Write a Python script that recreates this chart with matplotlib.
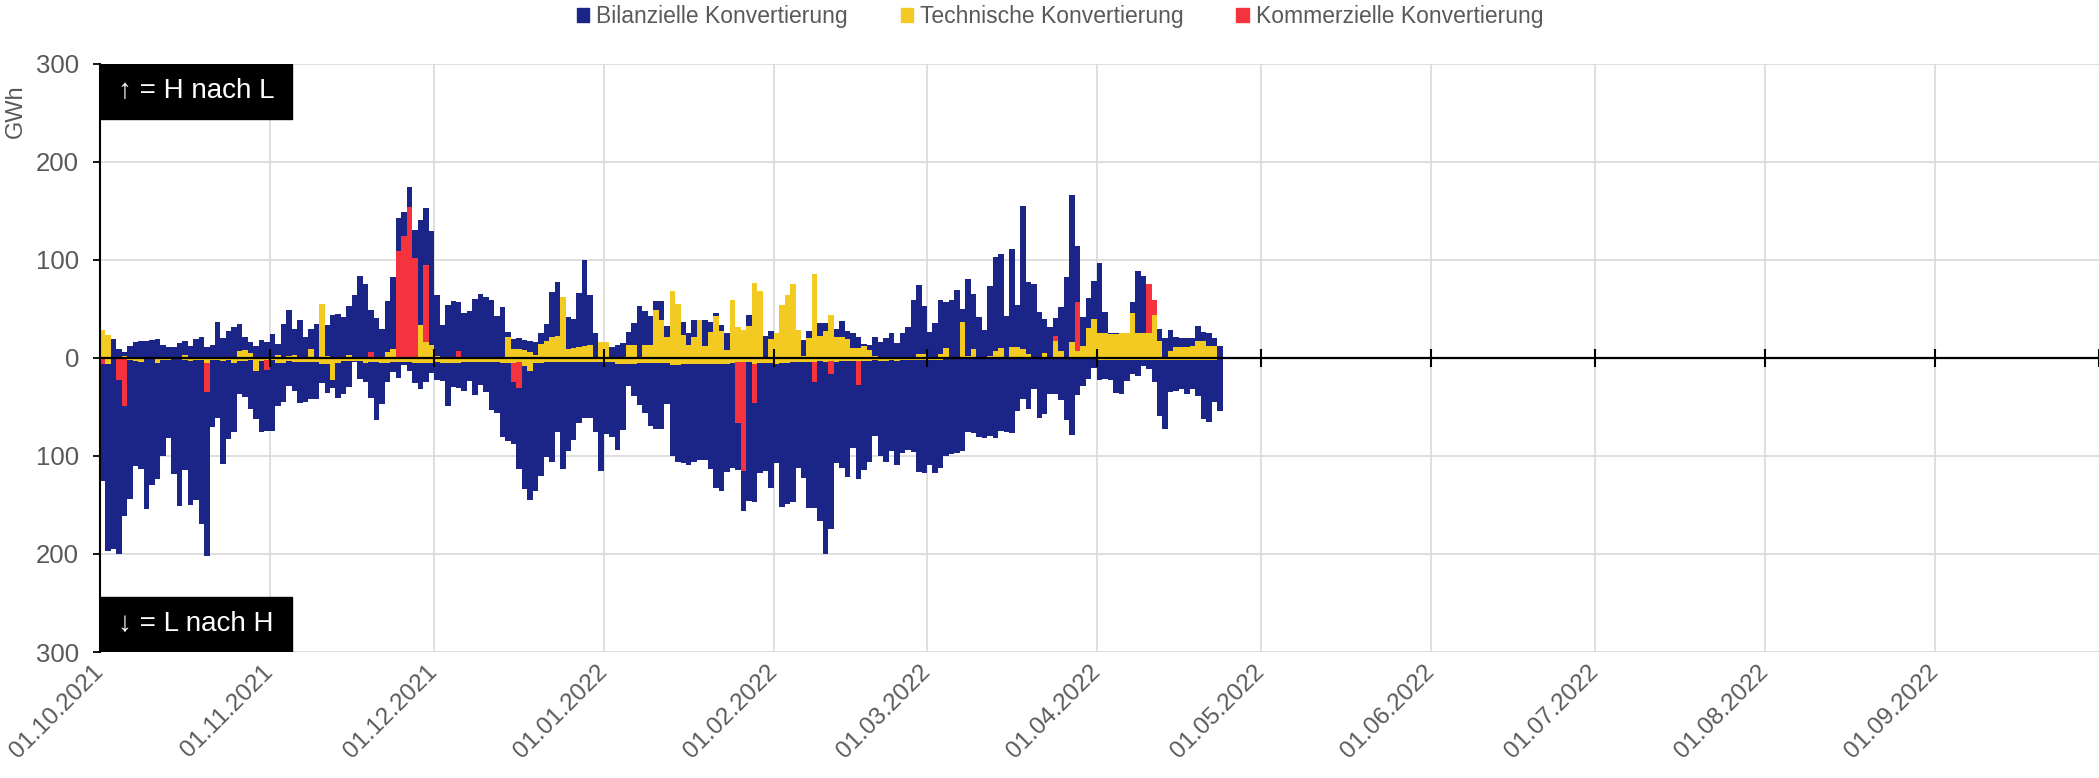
import numpy as np
import pandas as pd
import matplotlib
matplotlib.use('Agg')
import matplotlib.pyplot as plt
import matplotlib.dates as mdates
from matplotlib.patches import Rectangle, Patch
from matplotlib.ticker import FuncFormatter

plt.rcParams['font.family'] = ['Liberation Sans', 'DejaVu Sans']

# daily values in GWh, starting 01.10.2021
start_date = '2021-10-01'

# positive side (H nach L), stacked segments
blue_pos = [
    0, 0, 19, 9, 4, 12, 16, 17, 17, 18,
    19, 13, 11, 11, 15, 14, 12, 19, 21, 11,
    13, 37, 20, 28, 32, 28, 13, 11, 12, 18,
    16, 24, 11, 35, 47, 27, 39, 21, 21, 35,
    0, 32, 44, 45, 42, 50, 64, 84, 75, 43,
    41, 30, 52, 74, 34, 25, 20, 29, 107, 58,
    117, 62, 34, 54, 58, 50, 46, 48, 60, 65,
    62, 59, 43, 52, 6, 10, 11, 10, 11, 13,
    12, 18, 46, 56, 0, 33, 30, 55, 88, 51,
    25, 0, 0, 11, 13, 15, 14, 23, 53, 35,
    30, 9, 19, 12, 0, 0, 14, 13, 18, 0,
    27, 10, 3, 6, 17, 0, 0, 0, 11, 0,
    0, 22, 9, 0, 0, 0, 0, 0, 16, 8,
    0, 14, 8, 0, 9, 17, 9, 16, 11, 2,
    5, 19, 16, 20, 25, 15, 25, 32, 59, 70,
    49, 27, 36, 55, 47, 59, 69, 13, 79, 56,
    42, 29, 71, 96, 96, 43, 100, 43, 146, 74,
    76, 47, 35, 32, 19, 45, 83, 150, 57, 30,
    30, 39, 71, 22, 1, 1, 0, 0, 11, 64,
    59, 0, 0, 13, 20, 22, 10, 9, 9, 8,
    16, 10, 13, 8, 12,
]
yellow_pos = [
    29, 23, 0, 0, 2, 0, 0, 0, 0, 0,
    0, 0, 0, 0, 0, 3, 0, 0, 0, 0,
    0, 0, 0, 0, 0, 7, 8, 5, 0, 0,
    0, 0, 3, 0, 2, 3, 0, 0, 9, 0,
    55, 2, 0, 0, 0, 3, 0, 0, 0, 0,
    0, 0, 6, 9, 0, 0, 0, 0, 34, 16,
    13, 2, 0, 0, 0, 0, 0, 0, 0, 0,
    0, 0, 0, 0, 21, 9, 9, 8, 6, 3,
    14, 17, 21, 22, 62, 9, 10, 11, 12, 13,
    0, 16, 16, 0, 0, 0, 13, 13, 0, 13,
    13, 49, 39, 21, 68, 55, 23, 13, 21, 39,
    12, 27, 43, 28, 8, 59, 32, 29, 33, 77,
    68, 0, 19, 26, 54, 64, 75, 29, 2, 20,
    86, 22, 28, 44, 21, 21, 19, 10, 10, 12,
    8, 2, 0, 0, 0, 0, 0, 0, 0, 4,
    4, 0, 0, 4, 10, 0, 0, 37, 2, 9,
    0, 0, 2, 7, 10, 0, 11, 11, 9, 4,
    0, 0, 5, 0, 17, 7, 0, 16, 7, 12,
    31, 40, 26, 25, 24, 24, 25, 25, 46, 25,
    25, 25, 44, 17, 0, 7, 11, 11, 11, 12,
    17, 17, 12, 12, 0,
]
red_pos = [0] * 205
for day, val in [(49, 6), (54, 109), (55, 124), (56, 154), (57, 102), (59, 79),
                 (65, 7), (174, 5), (178, 50), (191, 50), (192, 15)]:
    red_pos[day] = val

# negative side (L nach H), magnitudes of stacked segments
yellow_neg = [
    0, 6, 1, 0, 0, 2, 3, 4, 1, 1,
    5, 2, 2, 1, 1, 2, 3, 2, 2, 5,
    2, 2, 3, 2, 5, 3, 3, 2, 13, 3,
    2, 2, 5, 5, 3, 4, 4, 4, 4, 4,
    6, 6, 22, 5, 3, 3, 3, 3, 5, 4,
    4, 5, 5, 4, 4, 4, 4, 5, 5, 5,
    5, 4, 5, 5, 5, 5, 4, 4, 4, 4,
    4, 4, 4, 5, 5, 5, 4, 8, 13, 5,
    5, 4, 4, 4, 4, 4, 4, 4, 4, 4,
    4, 4, 4, 4, 6, 6, 6, 6, 5, 5,
    5, 5, 5, 5, 7, 7, 6, 6, 6, 6,
    6, 6, 6, 6, 6, 5, 4, 4, 4, 6,
    5, 5, 5, 6, 5, 5, 4, 4, 4, 4,
    4, 3, 4, 3, 4, 3, 3, 3, 3, 3,
    3, 2, 3, 3, 2, 3, 2, 2, 2, 2,
    2, 2, 2, 2, 1, 1, 1, 1, 1, 1,
    1, 1, 1, 1, 1, 1, 1, 1, 1, 1,
    1, 1, 1, 1, 1, 1, 1, 1, 1, 1,
    1, 1, 2, 2, 2, 2, 2, 2, 2, 2,
    2, 2, 2, 2, 2, 2, 2, 2, 2, 2,
    2, 2, 2, 2, 1,
]
red_neg = [0] * 205
for day, val in [(0, 6), (3, 22), (4, 49), (19, 30), (30, 10), (75, 20), (76, 27),
                 (116, 62), (117, 111), (119, 40), (130, 20), (133, 13), (138, 25)]:
    red_neg[day] = val
blue_neg = [
    120, 191, 194, 178, 112, 142, 107, 109, 153, 129,
    118, 98, 80, 117, 150, 112, 147, 143, 167, 167,
    68, 59, 105, 81, 71, 34, 37, 50, 49, 73,
    63, 72, 44, 40, 26, 30, 42, 41, 38, 38,
    20, 30, 9, 36, 34, 27, 1, 18, 20, 37,
    59, 42, 19, 10, 16, 3, 9, 21, 27, 20,
    10, 18, 18, 44, 25, 26, 30, 19, 34, 24,
    31, 49, 52, 76, 80, 63, 82, 126, 132, 131,
    115, 97, 102, 72, 109, 91, 80, 62, 57, 57,
    72, 111, 74, 77, 88, 67, 23, 33, 43, 51,
    64, 67, 67, 42, 93, 99, 101, 103, 100, 98,
    98, 107, 127, 130, 110, 107, 48, 41, 142, 101,
    112, 110, 128, 101, 147, 144, 143, 108, 118, 149,
    129, 163, 196, 159, 103, 109, 118, 89, 95, 111,
    103, 78, 97, 103, 93, 106, 95, 92, 94, 114,
    115, 107, 115, 110, 99, 97, 96, 94, 75, 76,
    80, 81, 79, 81, 74, 75, 76, 53, 41, 51,
    31, 60, 56, 36, 36, 42, 62, 78, 37, 28,
    20, 9, 20, 19, 20, 34, 35, 21, 14, 16,
    6, 9, 22, 57, 70, 33, 32, 30, 35, 30,
    37, 60, 63, 43, 53,
]

labels = ['Bilanzielle Konvertierung', 'Technische Konvertierung', 'Kommerzielle Konvertierung']
c_blue = '#1b2587'
c_yellow = '#f2ca22'
c_red = '#f5333f'
c_text = '#595959'

days = pd.date_range(start_date, periods=len(blue_pos), freq='D')
x = mdates.date2num(days)
bp, yp, rp = np.array(blue_pos), np.array(yellow_pos), np.array(red_pos)
bn, yn, rn = np.array(blue_neg), np.array(yellow_neg), np.array(red_neg)

W, H = 2099, 778
fig = plt.figure(figsize=(W / 100, H / 100), dpi=100)
ax = fig.add_axes([100 / W, 1 - 652 / H, 1 - 100 / W, (652 - 64) / H])

kw = dict(width=1, align='edge', linewidth=0, zorder=2)
ax.bar(x, yp, color=c_yellow, **kw)
ax.bar(x, rp, bottom=yp, color=c_red, **kw)
ax.bar(x, bp, bottom=yp + rp, color=c_blue, **kw)
ax.bar(x, -yn, color=c_yellow, **kw)
ax.bar(x, -rn, bottom=-yn, color=c_red, **kw)
ax.bar(x, -bn, bottom=-(yn + rn), color=c_blue, **kw)

months = pd.date_range('2021-10-01', '2022-09-01', freq='MS')
mx = mdates.date2num(months)
ax.set_xlim(mdates.date2num(pd.Timestamp('2021-10-01')), mdates.date2num(pd.Timestamp('2022-10-01')))
ax.set_ylim(-300, 300)
ax.set_xticks(mx)
ax.set_xticklabels([m.strftime('%d.%m.%Y') for m in months], rotation=45,
                   ha='right', va='center', rotation_mode='anchor')
ax.set_yticks(range(-300, 301, 100))
ax.yaxis.set_major_formatter(FuncFormatter(lambda v, p: f'{abs(int(v))}'))
ax.tick_params(axis='x', length=0, pad=12, labelsize=17.5, labelcolor=c_text)
ax.tick_params(axis='y', direction='out', length=5, width=1.3, color='black',
               pad=10, labelsize=18.5, labelcolor=c_text)

ax.grid(True, color='#d9d9d9', lw=1.2, zorder=0)
ax.set_axisbelow(True)
for s in ['top', 'right', 'bottom']:
    ax.spines[s].set_visible(False)
ax.spines['left'].set_color('black')
ax.spines['left'].set_linewidth(1.5)
ax.spines['left'].set_zorder(6)

# zero line with month ticks
ax.axhline(0, color='black', lw=1.6, zorder=5)
ax.plot(mx[1:], np.zeros(len(mx) - 1), ls='none', marker='|', ms=13, mew=1.5,
        color='black', zorder=5, clip_on=False)
ax.plot([mdates.date2num(pd.Timestamp('2022-10-01'))], [0], ls='none', marker='|',
        ms=13, mew=1.5, color='black', zorder=5, clip_on=False)

# direction boxes
bw, bh = 192 / 1999, 55 / 588
ax.add_patch(Rectangle((0, 1 - bh), bw, bh, transform=ax.transAxes, color='black', zorder=7))
ax.add_patch(Rectangle((0, 0), bw, bh, transform=ax.transAxes, color='black', zorder=7))
ax.text(18 / 1999, 1 - bh / 2, '↑ = H nach L', transform=ax.transAxes, color='white',
        fontsize=20, va='center', ha='left', zorder=8)
ax.text(18 / 1999, bh / 2, '↓ = L nach H', transform=ax.transAxes, color='white',
        fontsize=20, va='center', ha='left', zorder=8)

fig.text(16 / W, 1 - 111 / H, 'GWh', rotation=90, ha='center', va='center',
         fontsize=17, color=c_text)

handles = [Patch(color=c_blue), Patch(color=c_yellow), Patch(color=c_red)]
fig.legend(handles, labels, loc='upper center', bbox_to_anchor=(0.505, 1.005), ncol=3,
           frameon=False, fontsize=16.5, handlelength=0.55, handleheight=0.55,
           handletextpad=0.3, columnspacing=2.3, labelcolor=c_text, borderaxespad=0)

fig.savefig('out.png', dpi=100)
